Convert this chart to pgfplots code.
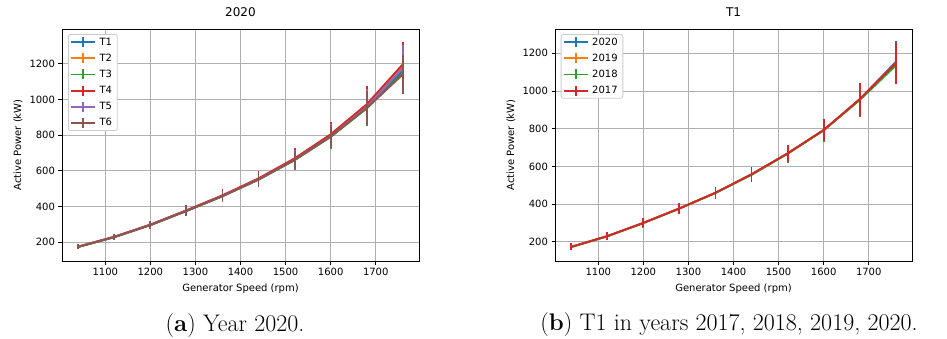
\documentclass[border=0pt]{standalone}
\usepackage{fontspec}
\usepackage{pgfplots}
\pgfplotsset{compat=1.18}
\newfontfamily\djv{DejaVu Sans}
\definecolor{c0}{HTML}{1F77B4}
\definecolor{c1}{HTML}{FF7F0E}
\definecolor{c2}{HTML}{2CA02C}
\definecolor{c3}{HTML}{D62728}
\definecolor{c4}{HTML}{9467BD}
\definecolor{c5}{HTML}{8C564B}
\definecolor{gridc}{HTML}{B0B0B0}
\definecolor{legc}{HTML}{CCCCCC}

\pgfplotstableread{
x y e
1040 174 14
1120 229 16
1200 297 21
1280 377 27
1360 460 33
1440 553 40
1520 664 52
1600 796 65
1680 958 95
1760 1160 125
}\aAa
\pgfplotstableread{
x y e
1040 175 15
1120 230 17
1200 298 22
1280 378 28
1360 462 35
1440 556 43
1520 667 55
1600 800 68
1680 968 102
1760 1193 130
}\aBb
\pgfplotstableread{
x y e
1040 174 14
1120 229 16
1200 296 21
1280 375 27
1360 458 34
1440 551 41
1520 660 53
1600 790 66
1680 950 98
1760 1148 118
}\aCc
\pgfplotstableread{
x y e
1040 176 15
1120 231 17
1200 299 22
1280 379 29
1360 463 36
1440 558 44
1520 670 56
1600 805 70
1680 973 100
1760 1197 125
}\aDd
\pgfplotstableread{
x y e
1040 175 15
1120 230 17
1200 297 22
1280 376 28
1360 459 35
1440 552 42
1520 662 54
1600 794 67
1680 958 98
1760 1177 128
}\aEe
\pgfplotstableread{
x y e
1040 174 14
1120 229 16
1200 296 21
1280 375 27
1360 458 34
1440 551 41
1520 661 53
1600 792 66
1680 952 96
1760 1140 112
}\aFf

\pgfplotstableread{
x y e
1040 173 19
1120 230 20
1200 300 24
1280 377 29
1360 460 33
1440 558 40
1520 669 47
1600 793 60
1680 956 88
1760 1155 112
}\bAa
\pgfplotstableread{
x y e
1040 173 18
1120 230 20
1200 300 24
1280 377 29
1360 460 33
1440 557 40
1520 668 47
1600 792 60
1680 955 88
1760 1148 108
}\bBb
\pgfplotstableread{
x y e
1040 172 18
1120 229 20
1200 299 24
1280 376 29
1360 459 33
1440 555 39
1520 667 47
1600 791 60
1680 952 88
1760 1135 100
}\bCc
\pgfplotstableread{
x y e
1040 173 19
1120 230 20
1200 300 24
1280 377 29
1360 460 33
1440 558 40
1520 669 47
1600 793 60
1680 957 88
1760 1147 110
}\bDd

\pgfplotsset{
  mystyle/.style={
    width=357pt, height=232pt, scale only axis,
    xmin=1004, xmax=1796,
    xtick={1100,1200,1300,1400,1500,1600,1700},
    ytick={200,400,600,800,1000,1200},
    grid=major,
    major grid style={draw=gridc, line width=0.8pt},
    axis line style={line width=0.8pt},
    tick align=outside, tick pos=left,
    major tick length=3.5pt,
    tick style={black, line width=0.8pt},
    ticklabel style={font=\djv\fontsize{10}{12}\selectfont},
    /pgf/number format/assume math mode=true,
    /pgf/number format/1000 sep={},
    label style={font=\djv\fontsize{10}{12}\selectfont},
    title style={font=\djv\fontsize{12}{14}\selectfont, at={(axis description cs:0.5,1.047)}, anchor=center},
    xlabel style={at={(axis description cs:0.5,-0.118)}, anchor=center},
    ylabel style={at={(axis description cs:-0.123,0.5)}, anchor=center},
    xlabel={Generator Speed (rpm)},
    ylabel={Active Power (kW)},
    legend cell align=left,
    legend style={font=\djv\fontsize{10}{12}\selectfont, draw=legc, line width=0.8pt, rounded corners=2pt, fill=white,
      at={(axis description cs:0.017,0.978)}, anchor=north west,
      inner xsep=2pt, inner ysep=1.5pt, row sep=3.6pt,
      nodes={inner xsep=3.2pt, inner ysep=1.5pt, text height=7.5pt, text depth=2pt}},
    legend image code/.code={
      \draw[##1, line width=1.9pt, rounded corners=0pt] (0pt,0pt) -- (24pt,0pt);
      \draw[##1, line width=1.9pt, rounded corners=0pt] (12pt,-5pt) -- (12pt,5pt);
    },
  },
}

\begin{document}
\begin{tikzpicture}
\path[use as bounding box] (0pt,0pt) rectangle (947pt,338pt);
\begin{axis}[mystyle, at={(62pt,77pt)}, anchor=south west, ymin=95, ymax=1395, title={2020}]
\addplot[c0, line width=1.9pt, no marks, error bars/.cd, y dir=both, y explicit, error mark=none, error bar style={line width=1.9pt, c0}] table[x=x, y=y, y error=e] {\aAa}; \addlegendentry{T1}
\addplot[c1, line width=1.9pt, no marks, error bars/.cd, y dir=both, y explicit, error mark=none, error bar style={line width=1.9pt, c1}] table[x=x, y=y, y error=e] {\aBb}; \addlegendentry{T2}
\addplot[c2, line width=1.9pt, no marks, error bars/.cd, y dir=both, y explicit, error mark=none, error bar style={line width=1.9pt, c2}] table[x=x, y=y, y error=e] {\aCc}; \addlegendentry{T3}
\addplot[c3, line width=1.9pt, no marks, error bars/.cd, y dir=both, y explicit, error mark=none, error bar style={line width=1.9pt, c3}] table[x=x, y=y, y error=e] {\aDd}; \addlegendentry{T4}
\addplot[c4, line width=1.9pt, no marks, error bars/.cd, y dir=both, y explicit, error mark=none, error bar style={line width=1.9pt, c4}] table[x=x, y=y, y error=e] {\aEe}; \addlegendentry{T5}
\addplot[c5, line width=1.9pt, no marks, error bars/.cd, y dir=both, y explicit, error mark=none, error bar style={line width=1.9pt, c5}] table[x=x, y=y, y error=e] {\aFf}; \addlegendentry{T6}
\end{axis}
\begin{axis}[mystyle, at={(555pt,77pt)}, anchor=south west, ymin=98, ymax=1329, title={T1},
  legend style={at={(axis description cs:0.016,0.978)}}]
\addplot[c0, line width=1.9pt, no marks, error bars/.cd, y dir=both, y explicit, error mark=none, error bar style={line width=1.9pt, c0}] table[x=x, y=y, y error=e] {\bAa}; \addlegendentry{2020}
\addplot[c1, line width=1.9pt, no marks, error bars/.cd, y dir=both, y explicit, error mark=none, error bar style={line width=1.9pt, c1}] table[x=x, y=y, y error=e] {\bBb}; \addlegendentry{2019}
\addplot[c2, line width=1.9pt, no marks, error bars/.cd, y dir=both, y explicit, error mark=none, error bar style={line width=1.9pt, c2}] table[x=x, y=y, y error=e] {\bCc}; \addlegendentry{2018}
\addplot[c3, line width=1.9pt, no marks, error bars/.cd, y dir=both, y explicit, error mark=none, error bar style={line width=1.9pt, c3}] table[x=x, y=y, y error=e] {\bDd}; \addlegendentry{2017}
\end{axis}
\node[anchor=base, font=\fontsize{24}{28}\selectfont] at (235pt,7pt) {(\textbf{a}) Year 2020.};
\node[anchor=base, font=\fontsize{24}{28}\selectfont] at (729pt,8pt) {(\textbf{b}) T1 in years 2017, 2018, 2019, 2020.};
\end{tikzpicture}
\end{document}
